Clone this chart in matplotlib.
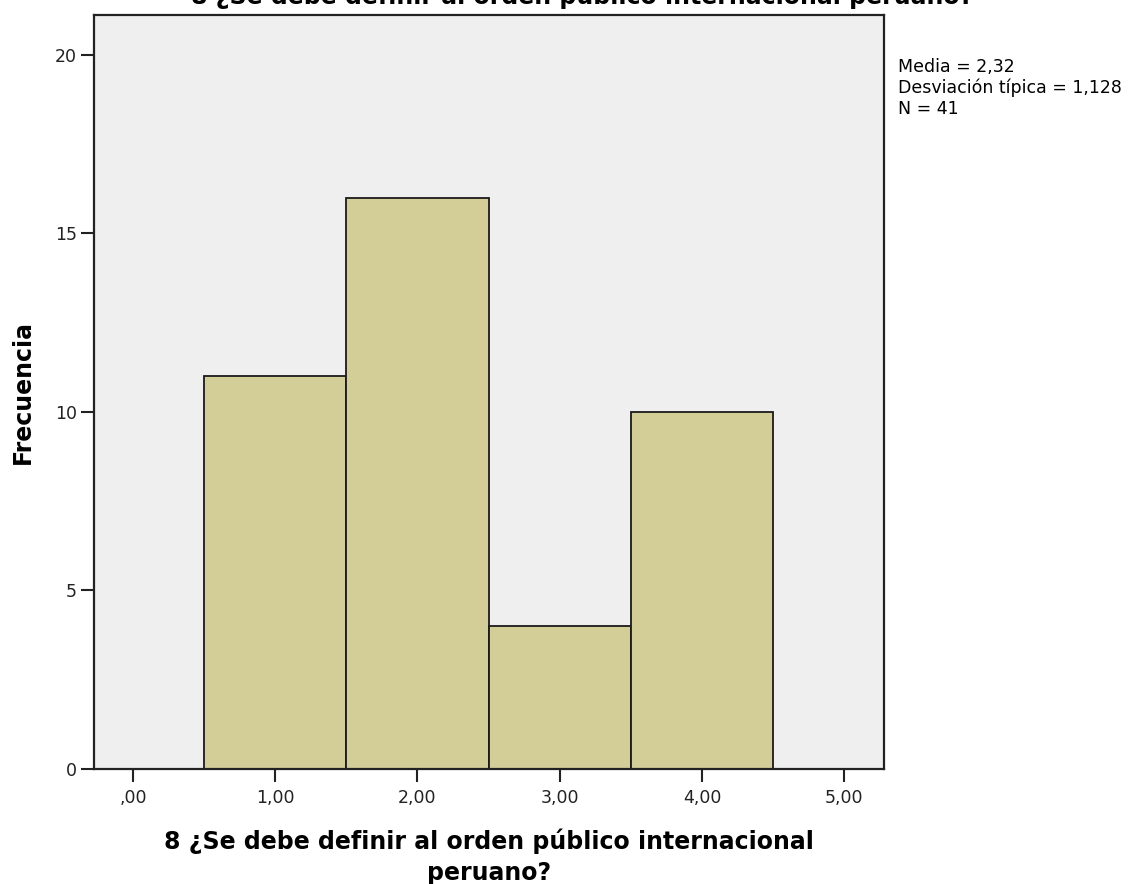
import matplotlib
matplotlib.use("Agg")
import matplotlib.pyplot as plt

plt.rcParams['font.family'] = ['DejaVu Sans']

bin_edges = [0.5, 1.5, 2.5, 3.5, 4.5]
frequencies = [11, 16, 4, 10]
x_ticks = [0, 1, 2, 3, 4, 5]
x_tick_labels = [",00", "1,00", "2,00", "3,00", "4,00", "5,00"]
y_ticks = [0, 5, 10, 15, 20]
title = "8 ¿Se debe definir al orden público internacional peruano?"
x_label = "8 ¿Se debe definir al orden público internacional\nperuano?"
y_label = "Frecuencia"
stats_text = "Media = 2,32\nDesviación típica = 1,128\nN = 41"

W, H = 1132, 884
L, R, T, B = 94, 884, 15, 769

fig = plt.figure(figsize=(W / 100, H / 100), dpi=100)
ax = fig.add_axes([L / W, (H - B) / H, (R - L) / W, (B - T) / H])
ax.set_facecolor('#EFEFEF')

lefts = bin_edges[:-1]
widths = [bin_edges[i + 1] - bin_edges[i] for i in range(len(lefts))]
ax.bar(lefts, frequencies, width=widths, align='edge', color='#D3CE98',
       edgecolor='#1a1a1a', linewidth=1.3, zorder=2)

ax.set_xlim(-0.274, 5.28)
ax.set_ylim(0, 21.12)
ax.set_xticks(x_ticks)
ax.set_xticklabels(x_tick_labels)
ax.set_yticks(y_ticks)
ax.tick_params(axis='both', direction='out', length=9.5, width=1.5, colors='#222222',
               labelsize=12.5, labelcolor='#222222')
ax.tick_params(axis='x', pad=5)
ax.tick_params(axis='y', pad=3)
for s in ax.spines.values():
    s.set_linewidth(1.6)
    s.set_color('#222222')

ax.set_xlabel(x_label, fontsize=17, fontweight='bold', linespacing=1.35, va='top')
ax.xaxis.set_label_coords(0.5, -(829 - B) / (B - T))
ax.set_ylabel(y_label, fontsize=17, fontweight='bold', va='center')
ax.yaxis.set_label_coords((23 - L) / (R - L), 0.5)

fig.text(582 / W, 1 - 4 / H, title, fontsize=17, fontweight='bold', ha='center', va='baseline')
fig.text(898 / W, 1 - 58 / H, stats_text, fontsize=12.5, ha='left', va='top', linespacing=1.18)

fig.savefig("out.png", dpi=100)
